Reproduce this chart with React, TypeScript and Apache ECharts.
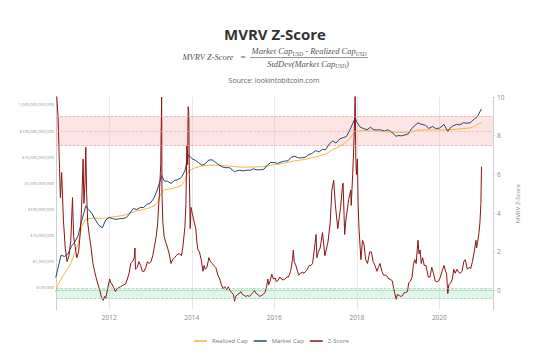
import React, { useEffect, useRef } from 'react';
import * as echarts from 'echarts';

const mcDates = ['2010-09-15','2010-10-01','2010-11-01','2010-12-01','2011-01-01','2011-02-01','2011-03-01','2011-04-01','2011-05-01','2011-06-08','2011-07-01','2011-08-01','2011-09-01','2011-10-01','2011-11-01','2011-12-01','2012-01-01','2012-02-01','2012-03-01','2012-04-01','2012-05-01','2012-06-01','2012-07-01','2012-08-01','2012-09-01','2012-10-01','2012-11-01','2012-12-01','2013-01-01','2013-02-01','2013-03-01','2013-04-09','2013-05-01','2013-06-01','2013-07-01','2013-08-01','2013-09-01','2013-10-01','2013-11-01','2013-12-01','2014-01-01','2014-02-01','2014-03-01','2014-04-01','2014-05-01','2014-06-01','2014-07-01','2014-08-01','2014-09-01','2014-10-01','2014-11-01','2014-12-01','2015-01-14','2015-02-01','2015-03-01','2015-04-01','2015-05-01','2015-06-01','2015-07-01','2015-08-01','2015-09-01','2015-10-01','2015-11-01','2015-12-01','2016-01-01','2016-02-01','2016-03-01','2016-04-01','2016-05-01','2016-06-01','2016-07-01','2016-08-01','2016-09-01','2016-10-01','2016-11-01','2016-12-01','2017-01-01','2017-02-01','2017-03-01','2017-04-01','2017-05-01','2017-06-01','2017-07-01','2017-08-01','2017-09-01','2017-10-01','2017-11-01','2017-12-17','2018-01-01','2018-02-01','2018-03-01','2018-04-01','2018-05-01','2018-06-01','2018-07-01','2018-08-01','2018-09-01','2018-10-01','2018-11-01','2018-12-15','2019-01-01','2019-02-01','2019-03-01','2019-04-01','2019-05-01','2019-06-26','2019-07-15','2019-08-01','2019-09-01','2019-10-01','2019-11-01','2019-12-01','2020-01-01','2020-02-12','2020-03-16','2020-04-01','2020-05-01','2020-06-01','2020-07-01','2020-08-01','2020-09-01','2020-10-01','2020-11-01','2020-12-01','2021-01-08'];
const marketCap = [2.5e5,5.0e5,1.8e6,1.6e6,2.0e6,4.0e6,5.6e6,1.0e7,3.5e7,1.4e8,1.0e8,7.1e7,4.0e7,2.5e7,2.0e7,4.0e7,5.0e7,4.5e7,4.2e7,4.5e7,4.5e7,5.0e7,7.1e7,1.1e8,1.0e8,1.2e8,1.2e8,1.6e8,1.8e8,2.8e8,5.6e8,2.0e9,1.26e9,1.2e9,1.0e9,1.3e9,1.4e9,1.7e9,3.0e9,1.26e10,8.9e9,7.6e9,6.3e9,5.0e9,5.6e9,7.9e9,7.9e9,6.3e9,5.0e9,4.2e9,4.0e9,4.0e9,2.8e9,3.0e9,3.2e9,3.0e9,3.2e9,3.2e9,3.6e9,3.3e9,3.3e9,3.5e9,5.0e9,6.3e9,6.3e9,5.8e9,6.6e9,7.1e9,7.4e9,1.0e10,1.1e10,9.5e9,9.5e9,1.0e10,1.26e10,1.4e10,1.8e10,1.6e10,2.0e10,2.0e10,3.2e10,4.2e10,3.5e10,5.0e10,5.6e10,6.3e10,1.12e11,3.2e11,2.2e11,1.4e11,1.26e11,1.12e11,1.4e11,1.12e11,1.12e11,1.12e11,1.0e11,1.12e11,9.5e10,6.3e10,6.8e10,6.6e10,7.1e10,7.9e10,1.26e11,2.1e11,1.9e11,1.8e11,1.66e11,1.26e11,1.5e11,1.26e11,1.3e11,1.8e11,9.5e10,1.26e11,1.6e11,1.8e11,1.75e11,2.1e11,2.0e11,2.1e11,2.8e11,3.5e11,7.1e11];

const rcDates = ['2010-09-15','2010-10-01','2010-11-01','2010-12-01','2011-01-01','2011-02-01','2011-03-01','2011-04-01','2011-05-01','2011-06-01','2011-07-01','2011-08-01','2011-09-01','2011-10-01','2011-11-01','2011-12-01','2012-01-01','2012-03-01','2012-05-01','2012-07-01','2012-09-01','2012-11-01','2013-01-01','2013-02-01','2013-03-01','2013-04-01','2013-05-01','2013-07-01','2013-09-01','2013-10-01','2013-11-01','2013-12-01','2014-01-01','2014-02-01','2014-04-01','2014-06-01','2014-08-01','2014-10-01','2014-12-01','2015-02-01','2015-04-01','2015-06-01','2015-08-01','2015-10-01','2015-12-01','2016-02-01','2016-04-01','2016-06-01','2016-08-01','2016-10-01','2016-12-01','2017-02-01','2017-04-01','2017-05-01','2017-06-01','2017-07-01','2017-08-01','2017-09-01','2017-10-01','2017-11-01','2017-12-01','2018-01-01','2018-03-01','2018-06-01','2018-09-01','2018-12-01','2019-03-01','2019-05-01','2019-07-01','2019-09-01','2019-12-01','2020-03-01','2020-06-01','2020-08-01','2020-10-01','2020-11-01','2020-12-01','2021-01-08'];
const realizedCap = [7.1e4,1.26e5,2.2e5,3.5e5,5.6e5,1.0e6,2.2e6,5.0e6,2.0e7,4.0e7,4.5e7,4.7e7,4.7e7,4.7e7,4.6e7,4.7e7,5.0e7,5.4e7,5.9e7,7.1e7,8.9e7,1.0e8,1.2e8,1.4e8,1.8e8,4.0e8,5.6e8,6.3e8,7.4e8,8.3e8,1.4e9,2.8e9,3.5e9,4.0e9,4.6e9,5.0e9,5.0e9,4.8e9,4.6e9,4.3e9,4.2e9,4.2e9,4.3e9,4.4e9,5.0e9,5.4e9,5.9e9,6.9e9,7.6e9,8.3e9,9.5e9,1.12e10,1.35e10,1.6e10,2.0e10,2.2e10,2.6e10,3.2e10,4.0e10,5.2e10,8.3e10,1.0e11,1.05e11,1.0e11,9.5e10,8.9e10,8.9e10,9.5e10,1.1e11,1.12e11,1.12e11,1.12e11,1.17e11,1.26e11,1.32e11,1.5e11,1.8e11,2.1e11];

const zDates = ['2010-09-18','2010-10-05','2010-10-18','2010-10-26','2010-11-06','2010-11-22','2010-12-08','2010-12-24','2011-01-10','2011-01-26','2011-02-10','2011-02-20','2011-03-05','2011-03-20','2011-04-05','2011-04-20','2011-05-01','2011-05-15','2011-05-22','2011-06-01','2011-06-08','2011-06-15','2011-06-25','2011-07-10','2011-07-25','2011-08-10','2011-08-25','2011-09-10','2011-09-25','2011-10-10','2011-10-25','2011-11-10','2011-11-20','2011-12-01','2011-12-15','2012-01-05','2012-01-15','2012-01-25','2012-02-10','2012-02-25','2012-03-10','2012-03-25','2012-04-10','2012-04-25','2012-05-10','2012-05-25','2012-06-10','2012-06-25','2012-07-10','2012-07-25','2012-08-10','2012-08-16','2012-08-20','2012-09-05','2012-09-20','2012-10-05','2012-10-20','2012-11-05','2012-11-20','2012-12-05','2012-12-20','2013-01-05','2013-01-20','2013-02-05','2013-02-20','2013-03-05','2013-03-20','2013-04-01','2013-04-09','2013-04-12','2013-04-20','2013-05-01','2013-05-15','2013-06-01','2013-06-15','2013-07-01','2013-07-15','2013-08-01','2013-08-15','2013-09-01','2013-09-15','2013-10-01','2013-10-15','2013-11-01','2013-11-10','2013-11-18','2013-11-25','2013-11-30','2013-12-05','2013-12-10','2013-12-18','2013-12-25','2014-01-05','2014-01-20','2014-02-05','2014-02-15','2014-02-25','2014-03-10','2014-03-25','2014-04-10','2014-04-20','2014-05-01','2014-05-15','2014-06-01','2014-06-15','2014-07-01','2014-07-15','2014-08-01','2014-08-20','2014-09-05','2014-09-20','2014-10-05','2014-10-20','2014-11-05','2014-11-20','2014-12-05','2014-12-20','2015-01-05','2015-01-14','2015-01-25','2015-02-10','2015-02-25','2015-03-10','2015-03-25','2015-04-10','2015-04-25','2015-05-10','2015-05-25','2015-06-10','2015-06-25','2015-07-10','2015-07-25','2015-08-10','2015-08-25','2015-09-10','2015-09-25','2015-10-10','2015-10-25','2015-11-05','2015-11-12','2015-11-25','2015-12-10','2015-12-25','2016-01-10','2016-01-20','2016-02-05','2016-02-20','2016-03-05','2016-03-20','2016-04-05','2016-04-20','2016-05-05','2016-05-25','2016-06-10','2016-06-18','2016-06-25','2016-07-10','2016-07-25','2016-08-05','2016-08-20','2016-09-05','2016-09-20','2016-10-05','2016-10-20','2016-11-05','2016-11-20','2016-12-05','2016-12-28','2017-01-05','2017-01-12','2017-01-25','2017-02-10','2017-03-03','2017-03-24','2017-04-20','2017-05-10','2017-05-25','2017-06-10','2017-06-25','2017-07-16','2017-08-10','2017-08-25','2017-09-01','2017-09-15','2017-09-25','2017-10-20','2017-11-08','2017-11-12','2017-11-25','2017-12-05','2017-12-12','2017-12-17','2017-12-22','2017-12-28','2018-01-06','2018-01-12','2018-01-20','2018-02-06','2018-02-20','2018-03-05','2018-03-20','2018-04-05','2018-04-25','2018-05-10','2018-05-25','2018-06-10','2018-06-28','2018-07-10','2018-07-25','2018-08-10','2018-08-25','2018-09-10','2018-09-25','2018-10-10','2018-10-25','2018-11-10','2018-11-20','2018-12-01','2018-12-15','2018-12-25','2019-01-10','2019-01-25','2019-02-10','2019-02-25','2019-03-10','2019-03-25','2019-04-05','2019-04-20','2019-05-05','2019-05-15','2019-05-28','2019-06-10','2019-06-26','2019-07-05','2019-07-15','2019-07-25','2019-08-06','2019-08-20','2019-09-05','2019-09-25','2019-10-10','2019-10-26','2019-11-10','2019-11-25','2019-12-10','2019-12-25','2020-01-10','2020-01-25','2020-02-12','2020-02-25','2020-03-05','2020-03-12','2020-03-16','2020-03-25','2020-04-10','2020-04-25','2020-05-08','2020-05-20','2020-06-05','2020-06-20','2020-07-05','2020-07-20','2020-08-05','2020-08-18','2020-09-05','2020-09-20','2020-10-05','2020-10-20','2020-11-05','2020-11-20','2020-11-26','2020-12-05','2020-12-17','2020-12-25','2021-01-03','2021-01-08'];
const zScore = [10.5,9.0,6.3,4.8,6.1,3.6,2.2,1.5,1.8,2.6,4.8,2.8,2.3,1.7,2.0,3.0,4.2,6.8,4.5,5.6,7.4,5.0,3.5,2.8,2.2,1.4,1.0,0.6,0.3,0.0,-0.35,-0.5,-0.3,-0.4,0.0,0.6,0.4,0.35,0.15,-0.05,0.1,0.15,0.2,0.25,0.3,0.35,0.6,0.9,1.4,1.5,1.7,2.2,1.1,1.2,1.5,1.3,1.0,1.0,1.2,1.5,1.4,1.5,1.8,2.3,2.8,3.5,5.0,6.5,10.0,5.0,3.5,2.8,2.5,2.2,1.9,1.4,1.6,1.7,1.8,1.9,1.9,1.8,2.3,3.3,4.5,7.5,6.5,9.5,9.2,6.0,3.2,4.3,4.0,3.6,3.2,2.5,2.1,2.0,1.6,1.0,1.3,1.1,1.2,1.7,1.5,1.4,1.3,1.2,0.8,0.6,0.3,0.1,0.2,0.05,0.2,0.0,-0.1,-0.2,-0.55,-0.3,-0.2,-0.15,-0.05,-0.2,-0.25,-0.3,-0.25,-0.3,-0.2,-0.1,0.0,-0.15,-0.2,-0.3,-0.25,-0.2,-0.1,0.2,0.6,0.3,0.5,0.85,0.6,0.65,0.45,0.55,0.7,0.6,0.55,0.6,0.7,0.7,1.0,1.6,2.1,1.5,1.3,1.0,0.8,0.9,0.95,0.9,1.0,1.1,1.3,1.3,1.4,2.5,2.9,1.7,2.0,2.2,3.0,1.8,2.5,3.5,5.2,5.7,4.4,3.2,4.3,5.3,5.55,2.9,3.6,4.7,5.2,4.4,6.0,7.5,8.8,10.2,7.0,6.0,6.8,4.5,3.2,1.6,2.6,2.4,1.6,1.4,2.0,2.0,1.5,1.3,1.0,1.2,1.4,1.0,0.8,0.8,0.75,0.6,0.6,0.5,0.2,-0.1,-0.45,-0.2,-0.25,-0.3,-0.25,-0.1,-0.1,-0.05,0.4,0.5,0.7,1.3,1.6,1.4,2.6,1.9,2.1,1.4,1.7,1.3,1.3,0.7,0.7,1.2,0.9,0.5,0.45,0.5,0.7,1.0,1.3,1.0,0.9,0.2,-0.15,0.3,0.4,0.6,1.1,0.9,1.1,0.95,0.9,1.0,1.5,1.6,1.1,1.2,1.15,1.5,2.0,2.6,2.2,2.5,3.0,3.5,4.5,6.4];

const zTicks = [0, 2, 4, 6, 8, 10];
const redBand = [7.5, 9];
const redMid = 8.25;
const greenBand = [-0.4, 0.1];

const zip = (d: string[], v: number[]) => d.map((x, i) => [x, v[i]]);

const fmtMoney = (v: number) => {
  const s = Math.round(v).toLocaleString('en-US');
  return v >= 1e12 ? s : '$' + s;
};

export default function App() {
  const ref = useRef<HTMLDivElement>(null);
  useEffect(() => {
    const chart = echarts.init(ref.current!, null, { renderer: 'svg' });
    const serif = 'Liberation Serif';
    const sans = 'Open Sans';
    const richStyles = {
      a: { fontSize: 8.5, fontStyle: 'italic', fontFamily: serif, lineHeight: 10, verticalAlign: 'top', color: '#555' },
      b: { fontSize: 5.5, fontStyle: 'italic', fontFamily: serif, lineHeight: 8, padding: [5, 0, 0, 0], verticalAlign: 'bottom', color: '#555' },
    };
    chart.setOption({
      animation: false,
      textStyle: { fontFamily: sans },
      grid: { left: 56, right: 45, top: 97, bottom: 46 },
      legend: {
        data: ['Realized Cap', 'Market Cap', 'Z-Score'],
        left: 189,
        top: 333,
        icon: 'rect',
        itemWidth: 13,
        itemHeight: 1.5,
        itemGap: 6,
        textStyle: { fontSize: 6, color: '#777', fontFamily: sans },
      },
      graphic: [
        { type: 'text', x: 275, y: 34, style: { text: 'MVRV Z-Score', font: `bold 15px "${sans}"`, fill: '#333', align: 'center', verticalAlign: 'middle' } },
        { type: 'text', x: 208, y: 57, style: { text: 'MVRV Z-Score', font: `italic 8.5px "${serif}"`, fill: '#555', align: 'center', verticalAlign: 'middle' } },
        { type: 'text', x: 243, y: 57, style: { text: '=', font: `9px "${serif}"`, fill: '#555', align: 'center', verticalAlign: 'middle' } },
        {
          type: 'text', x: 309, y: 51.5,
          style: { text: '{a|Market Cap}{b|USD}{a| - Realized Cap}{b|USD}', align: 'center', verticalAlign: 'middle', fill: '#555', rich: richStyles },
        },
        { type: 'line', shape: { x1: 250, y1: 57.5, x2: 368, y2: 57.5 }, style: { stroke: '#666', lineWidth: 0.7 } },
        {
          type: 'text', x: 308, y: 64,
          style: { text: '{a|StdDev(Market Cap}{b|USD}{a|)}', align: 'center', verticalAlign: 'middle', fill: '#555', rich: richStyles },
        },
        { type: 'text', x: 274, y: 80, style: { text: 'Source: lookintobitcoin.com', font: `7px "${sans}"`, fill: '#666', align: 'center', verticalAlign: 'middle' } },
      ],
      xAxis: {
        type: 'time',
        min: '2010-09-17',
        max: '2021-04-20',
        splitNumber: 5,
        axisLine: { lineStyle: { color: '#cfcfcf' } },
        axisTick: { show: false },
        axisLabel: {
          formatter: '{yyyy}',
          fontSize: 6.5, color: '#888', margin: 4,
          showMinLabel: false, showMaxLabel: false,
        },
        splitLine: { show: true, lineStyle: { color: '#e8e8e8', width: 1 } },
      },
      yAxis: [
        {
          type: 'log', logBase: 10, min: 14400, max: 2.02e12,
          axisLine: { show: true, lineStyle: { color: '#cfcfcf' } },
          axisTick: { show: false },
          splitLine: { show: false },
          axisLabel: { fontSize: 4.2, color: '#888', margin: 2, showMinLabel: false, showMaxLabel: false, formatter: fmtMoney },
        },
        {
          type: 'value', position: 'right', min: -1, max: 10,
          axisLine: { show: true, lineStyle: { color: '#cfcfcf' } },
          axisTick: { show: true, length: 2, customValues: zTicks, lineStyle: { color: '#cfcfcf' } },
          axisLabel: { customValues: zTicks, fontSize: 6.5, color: '#888', margin: 4 },
          splitLine: { show: false },
          name: 'MVRV Z-Score', nameLocation: 'middle', nameRotate: 90, nameGap: 18,
          nameTextStyle: { fontSize: 6, color: '#888' },
        },
      ],
      series: [
        {
          name: 'Realized Cap', type: 'line', yAxisIndex: 0, showSymbol: false, color: '#f5b53a',
          lineStyle: { width: 1 }, data: zip(rcDates, realizedCap),
        },
        {
          name: 'Market Cap', type: 'line', yAxisIndex: 0, showSymbol: false, color: '#1d4a78',
          lineStyle: { width: 1 }, data: zip(mcDates, marketCap),
        },
        {
          name: 'Z-Score', type: 'line', yAxisIndex: 1, showSymbol: false, color: '#8b1414',
          lineStyle: { width: 1 }, data: zip(zDates, zScore),
          markArea: {
            silent: true,
            data: [
              [{ yAxis: redBand[0], itemStyle: { color: 'rgba(250,175,175,0.32)' } }, { yAxis: redBand[1] }],
              [{ yAxis: greenBand[0], itemStyle: { color: 'rgba(170,230,195,0.35)' } }, { yAxis: greenBand[1] }],
            ],
          },
          markLine: {
            silent: true, symbol: 'none', label: { show: false },
            data: [
              { yAxis: redBand[1], lineStyle: { color: '#eaa0a0', type: 'dashed', width: 0.7 } },
              { yAxis: redMid, lineStyle: { color: '#eeb0b0', type: 'dashed', width: 0.7 } },
              { yAxis: redBand[0], lineStyle: { color: '#eaa0a0', type: 'dashed', width: 0.7 } },
              { yAxis: greenBand[1], lineStyle: { color: '#8fd0a8', type: 'dashed', width: 0.7 } },
              { yAxis: greenBand[0], lineStyle: { color: '#8fd0a8', type: 'dashed', width: 0.7 } },
            ],
          },
        },
      ],
    });
    return () => chart.dispose();
  }, []);
  return <div ref={ref} style={{ position: 'fixed', left: 0, top: 0, width: 538, height: 356, background: '#fff' }} />;
}
